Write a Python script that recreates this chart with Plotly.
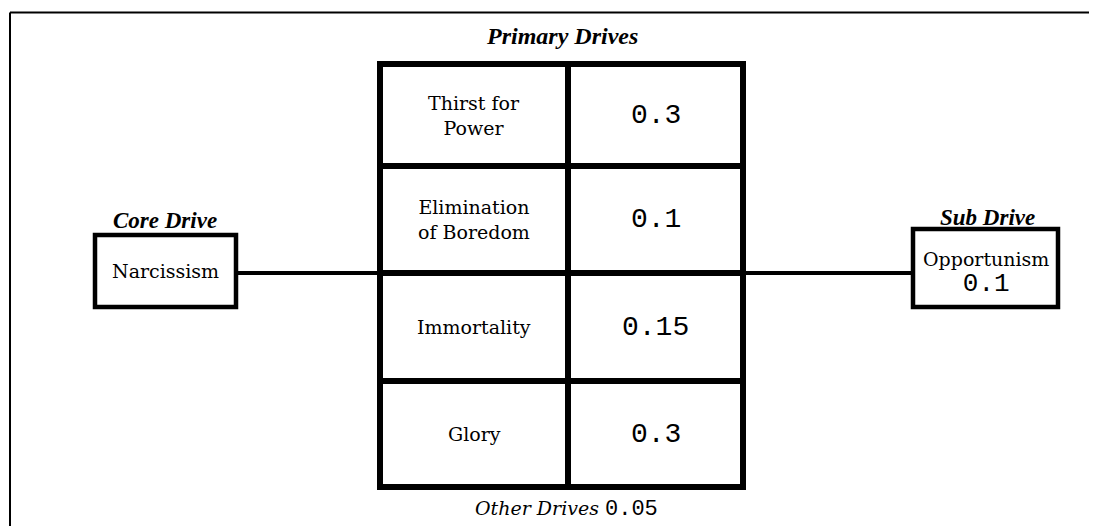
import plotly.graph_objects as go

# ---- data ----
core_drive = "Narcissism"
primary_drives = ["Thirst for<br>Power", "Elimination<br>of Boredom", "Immortality", "Glory"]
primary_values = [0.3, 0.1, 0.15, 0.3]
sub_drive = "Opportunism"
sub_value = 0.1
other_label = "Other Drives"
other_value = 0.05
headers = {"primary": "Primary Drives", "core": "Core Drive", "sub": "Sub Drive"}

# ---- layout geometry (screen pixels of the 1097x526 window) ----
W, H = 1097, 526
OFF = 8  # default page body margin
SERIF = "DejaVu Serif"
TIMES = "Liberation Serif"
MONO = "Liberation Mono"

tab_l, tab_m, tab_r = 380, 568, 743
row_edges = [64, 166, 273, 381, 487]
core_box = (95, 236, 235, 307)
sub_box = (913, 1058, 229, 307)
link_y = 273

fig = go.Figure()
shapes = []
ann = []

def line(x0, y0, x1, y1, w, color="black"):
    shapes.append(dict(type="line", xref="x", yref="y", x0=x0, y0=y0, x1=x1, y1=y1,
                       line=dict(color=color, width=w)))

def rect(x0, x1, y0, y1, w):
    shapes.append(dict(type="rect", xref="x", yref="y", x0=x0, x1=x1, y0=y0, y1=y1,
                       line=dict(color="black", width=w), fillcolor="rgba(0,0,0,0)"))

def text(x, y, s, family, size, xanchor="center", yanchor="middle", bold=False, italic=False):
    ann.append(dict(x=x, y=y, xref="x", yref="y", text=s, showarrow=False,
                    xanchor=xanchor, yanchor=yanchor, borderpad=0,
                    font=dict(family=family, size=size, color="black",
                              weight="bold" if bold else "normal",
                              style="italic" if italic else "normal")))

# outer frame (top and left edges)
line(10, 12.5, W + 5, 12.5, 2)
line(10, 12.5, 10, H + 5, 2)

# connecting lines
line(core_box[1], link_y, tab_l, link_y, 4)
line(tab_r, link_y, sub_box[0], link_y, 4)

# core drive box
rect(*core_box, 4.5)
text(165, 220, headers["core"], TIMES, 23, bold=True, italic=True)
text((core_box[0] + core_box[1]) / 2, (core_box[2] + core_box[3]) / 2, core_drive, SERIF, 19)

# sub drive box
rect(*sub_box, 4.5)
text(987, 217, headers["sub"], TIMES, 23, bold=True, italic=True)
text((sub_box[0] + sub_box[1]) / 2, 273,
     f"{sub_drive}<br><span style='font-family:{MONO};font-size:26px'>{sub_value}</span>",
     SERIF, 19)

# primary drives table
text((tab_l + tab_r) / 2, 36, headers["primary"], TIMES, 24, bold=True, italic=True)
for i, (name, val) in enumerate(zip(primary_drives, primary_values)):
    y0, y1 = row_edges[i], row_edges[i + 1]
    yc = (y0 + y1) / 2
    text((tab_l + tab_m) / 2, yc, name, SERIF, 19)
    text((tab_m + tab_r) / 2, yc, f"{val}", MONO, 28)
for y in row_edges[1:-1]:
    line(tab_l, y, tab_r, y, 6)
line(tab_m, row_edges[0], tab_m, row_edges[-1], 6)
rect(tab_l, tab_r, row_edges[0], row_edges[-1], 6)

# other drives
text(566, 509,
     f"<i>{other_label}</i> <span style='font-family:{MONO};font-size:22px'>{other_value}</span>",
     SERIF, 19)

fig.update_layout(
    width=W - OFF, height=H - OFF,
    margin=dict(l=0, r=0, t=0, b=0),
    paper_bgcolor="white", plot_bgcolor="white",
    xaxis=dict(range=[OFF, W], visible=False, fixedrange=True),
    yaxis=dict(range=[H, OFF], visible=False, fixedrange=True),
    shapes=shapes, annotations=ann, showlegend=False,
)
fig.write_html("out.html")
